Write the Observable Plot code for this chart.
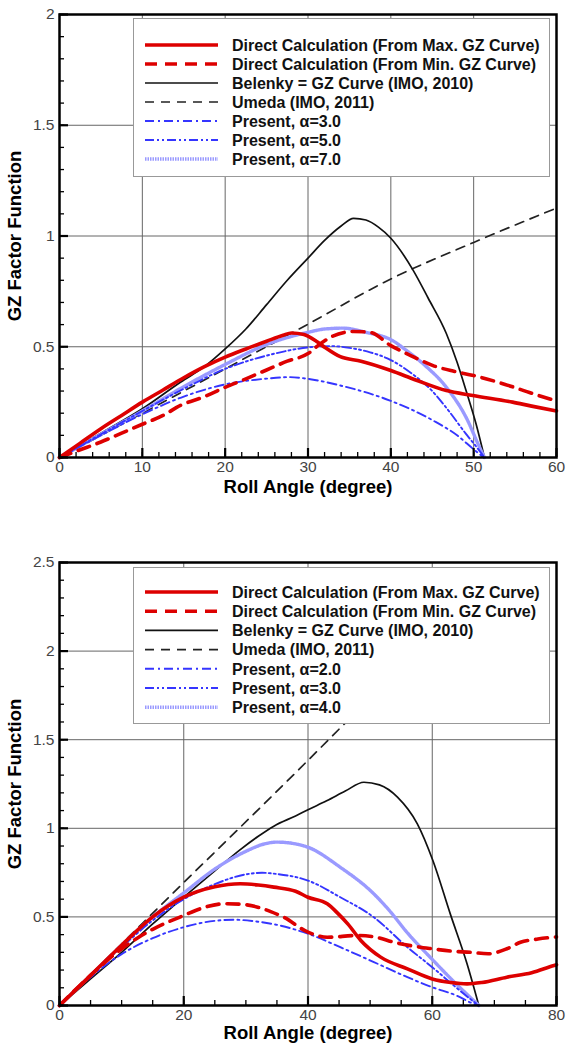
<!DOCTYPE html>
<html><head><meta charset="utf-8">
<script src="https://cdn.jsdelivr.net/npm/d3@7"></script>
<script src="https://cdn.jsdelivr.net/npm/@observablehq/plot@0.6"></script>
<style>
body{margin:0;background:#fff;font-family:"Liberation Sans",Arial,sans-serif;}
.panel{position:relative;width:566px;overflow:hidden;}
.panel svg{display:block;}
.legend{position:absolute;}
</style></head><body>
<div id="top" class="panel" style="height:520px"></div>
<div id="bottom" class="panel" style="height:525px"></div>
<script>
// ---------- axis ticks ----------
const topXMajor = [0,10,20,30,40,50,60];
const topXMinor = d3.range(0, 61, 2);
const topYMajor = [0,0.5,1,1.5,2];
const topYMinor = d3.range(0, 2.01, 0.1);
const botXMajor = [0,20,40,60,80];
const botXMinor = d3.range(0, 81, 5);
const botYMajor = [0,0.5,1,1.5,2,2.5];
const botYMinor = d3.range(0, 2.51, 0.1);

const xTitle = "Roll Angle (degree)";
const yTitle = "GZ Factor Function";

// ---------- legend labels ----------
const topLegend = ["Direct Calculation (From Max. GZ Curve)","Direct Calculation (From Min. GZ Curve)","Belenky = GZ Curve (IMO, 2010)","Umeda (IMO, 2011)","Present, α=3.0","Present, α=5.0","Present, α=7.0"];
const botLegend = ["Direct Calculation (From Max. GZ Curve)","Direct Calculation (From Min. GZ Curve)","Belenky = GZ Curve (IMO, 2010)","Umeda (IMO, 2011)","Present, α=2.0","Present, α=3.0","Present, α=4.0"];

// ---------- top panel data [roll angle, GZ factor] ----------
const top_max = [[0,0],[2.5,0.065],[5,0.13],[7.5,0.19],[10,0.25],[12.5,0.305],[15,0.36],[17.5,0.41],[20,0.453],[22.5,0.49],[25,0.525],[27,0.552],[28,0.562],[29.5,0.555],[31,0.525],[32,0.498],[33.9,0.455],[36.4,0.435],[40,0.393],[43,0.35],[46.7,0.302],[49.9,0.28],[54.7,0.25],[57,0.232],[60,0.21]];
const top_min = [[0,0],[2.5,0.035],[5,0.07],[7.5,0.11],[10,0.15],[12.5,0.19],[14.6,0.235],[17.5,0.275],[20,0.317],[22.5,0.355],[25,0.395],[27.5,0.435],[30,0.469],[31.2,0.505],[33,0.548],[35.5,0.569],[37.5,0.565],[40,0.505],[42.4,0.46],[45.1,0.415],[47.5,0.39],[50,0.37],[53.8,0.33],[57,0.29],[60,0.255]];
const top_belenky = [[0,0],[5,0.11],[10,0.22],[14.6,0.34],[17.5,0.41],[20,0.49],[22.5,0.58],[25,0.69],[27.5,0.8],[30,0.9],[32,0.98],[34,1.045],[35.5,1.08],[37,1.072],[38.5,1.04],[40,0.99],[42.7,0.845],[44.5,0.72],[46.7,0.56],[48,0.43],[49.1,0.3],[50.3,0.15],[51.3,0]];
const top_umeda = [[0,0],[10,0.2],[20,0.4],[30,0.602],[40,0.806],[50,0.971],[60,1.126]];
const top_a1 = [[0,0],[5,0.1],[10,0.195],[15,0.275],[20,0.33],[25,0.356],[27.8,0.363],[30,0.355],[33.9,0.325],[39.9,0.257],[45.1,0.167],[48,0.1],[49.9,0.04],[51.2,0]];
const top_a2 = [[0,0],[5,0.105],[10,0.21],[15,0.31],[20,0.4],[25,0.46],[30,0.497],[32.8,0.503],[35,0.495],[37.5,0.475],[40,0.44],[42.5,0.38],[45,0.3],[47,0.21],[49,0.11],[50.5,0.04],[51.3,0]];
const top_a3 = [[0,0],[5,0.105],[10,0.21],[15,0.32],[20,0.42],[25,0.51],[30,0.565],[32,0.58],[34.2,0.584],[37,0.565],[40.2,0.528],[42,0.48],[43.9,0.423],[46.7,0.317],[49.1,0.18],[50.7,0.047],[51.3,0]];

// ---------- bottom panel data ----------
const bot_max = [[0,0],[5,0.17],[10,0.34],[15,0.5],[20,0.611],[25,0.67],[29.1,0.687],[32,0.68],[34.5,0.668],[38,0.645],[40,0.611],[43.1,0.574],[44.8,0.52],[46.4,0.461],[48.5,0.367],[51.7,0.273],[56,0.207],[60,0.15],[63,0.13],[65.6,0.122],[68,0.13],[72,0.16],[76,0.185],[79.6,0.226],[80,0.23]];
const bot_min = [[0,0],[5,0.17],[10,0.32],[12.5,0.38],[15,0.43],[20,0.508],[23,0.55],[26.5,0.574],[29,0.572],[31.9,0.555],[34,0.53],[36.1,0.498],[40,0.414],[43.1,0.385],[47.9,0.395],[51,0.385],[53.8,0.357],[57,0.335],[60,0.32],[63,0.307],[66.2,0.3],[69,0.292],[72,0.32],[74.2,0.357],[77,0.375],[80,0.387]];
const bot_belenky = [[0,0],[5,0.15],[10,0.3],[15,0.46],[20,0.612],[25,0.76],[29.1,0.88],[32,0.955],[34.5,1.012],[38,1.07],[40,1.105],[43,1.155],[46,1.21],[49,1.26],[51.5,1.245],[54.4,1.176],[57.6,1.025],[60.1,0.818],[62.9,0.517],[65.6,0.236],[67.5,0]];
const bot_umeda = [[0,0],[10,0.347],[20,0.694],[29.1,1.006],[39.9,1.38],[47,1.63]];
const bot_a1 = [[0,0],[5,0.16],[10,0.29],[15,0.38],[20,0.442],[25,0.478],[28.1,0.484],[31,0.477],[35,0.455],[40,0.405],[45.2,0.329],[50.6,0.245],[56,0.16],[60,0.103],[63.9,0.056],[66.5,0.012],[67.5,0]];
const bot_a2 = [[0,0],[5,0.17],[10,0.33],[15,0.48],[20,0.6],[25,0.685],[30,0.74],[32.6,0.749],[35,0.742],[40,0.705],[45.2,0.611],[50.6,0.498],[56,0.329],[60,0.216],[63.9,0.1],[66,0.04],[67.5,0]];
const bot_a3 = [[0,0],[5,0.17],[10,0.34],[15,0.5],[20,0.635],[25,0.77],[30,0.87],[33,0.912],[35,0.922],[37.5,0.915],[40,0.893],[45.2,0.78],[50.6,0.63],[53,0.54],[56,0.41],[60,0.26],[63.9,0.12],[66.6,0.03],[67.5,0]];

// ---------- styles ----------
const RED = "#dd0000", BLUE = "#3535ff", LBLUE = "#9a9aff";
const styles = [
  {stroke: RED, strokeWidth: 3.6},
  {stroke: RED, strokeWidth: 3.6, strokeDasharray: "12,8"},
  {stroke: "#111", strokeWidth: 1.7},
  {stroke: "#222", strokeWidth: 1.7, strokeDasharray: "9,7"},
  {stroke: BLUE, strokeWidth: 1.9, strokeDasharray: "9,4,2,4"},
  {stroke: BLUE, strokeWidth: 1.9, strokeDasharray: "9,3,2,3,2,3"},
  {stroke: LBLUE, strokeWidth: 3.4, strokeDasharray: "1.5,1"}
];
const drawOrder = [3, 2, 6, 5, 4, 1, 0];

function makePanel(el, cfg) {
  const series = cfg.series;
  const innerH = cfg.height - cfg.mt - cfg.mb;
  const innerW = 566 - 59 - 10;
  const lineMarks = drawOrder.map(i => Plot.line(series[i], {x: d => d[0], y: d => d[1], curve: "monotone-x", strokeLinejoin: "round", ...styles[i]}));
  const chart = Plot.plot({
    width: 566, height: cfg.height,
    marginLeft: 59, marginRight: 10, marginTop: cfg.mt, marginBottom: cfg.mb,
    style: {fontFamily: '"Liberation Sans", Arial, sans-serif', fontSize: "15.5px", background: "#fff"},
    x: {domain: cfg.xDomain},
    y: {domain: cfg.yDomain},
    marks: [
      Plot.gridX(cfg.xMajor, {stroke: "#666", strokeOpacity: 1, strokeWidth: 1}),
      Plot.gridY(cfg.yMajor, {stroke: "#666", strokeOpacity: 1, strokeWidth: 1}),
      ...lineMarks,
      // inward ticks
      Plot.ruleX(cfg.xMinor, {x: d => d, insetTop: innerH - 5, stroke: "#000", strokeWidth: 1.3}),
      Plot.ruleX(cfg.xMajor, {x: d => d, insetTop: innerH - 9, stroke: "#000", strokeWidth: 2.2}),
      Plot.ruleY(cfg.yMinor, {y: d => d, insetRight: innerW - 5, stroke: "#000", strokeWidth: 1.3}),
      Plot.ruleY(cfg.yMajor, {y: d => d, insetRight: innerW - 9, stroke: "#000", strokeWidth: 2.2}),
      Plot.frame({stroke: "#000", strokeWidth: 2.5}),
      Plot.axisX(cfg.xMajor, {tickSize: 0, tickPadding: 3, fontSize: 15.5, color: "#444", label: null, tickFormat: d => String(d)}),
      Plot.axisY(cfg.yMajor, {tickSize: 0, tickPadding: 5, fontSize: 15.5, color: "#444", label: null, tickFormat: d => String(d)}),
      Plot.text([xTitle], {text: d => d, frameAnchor: "bottom", lineAnchor: "middle", textAnchor: "middle", dy: cfg.xTitleDy, fontSize: 18.5, fontWeight: "bold", fill: "#000"}),
      Plot.text([yTitle], {text: d => d, frameAnchor: "left", lineAnchor: "middle", textAnchor: "middle", dx: -44, rotate: -90, fontSize: 18.5, fontWeight: "bold", fill: "#000"})
    ]
  });
  el.appendChild(chart);
  // legend
  const lg = cfg.legend;
  const W = 417, H = lg.h;
  let s = `<svg class="legend" width="${W}" height="${H}" style="left:${lg.left}px;top:${lg.top}px">`;
  s += `<rect x="0.5" y="0.5" width="${W-1}" height="${H-1}" fill="#fff" stroke="#999" stroke-width="1"/>`;
  cfg.labels.forEach((lab, i) => {
    const y = lg.first + i * lg.step;
    const st = styles[i];
    s += `<line x1="12" x2="85" y1="${y}" y2="${y}" stroke="${st.stroke}" stroke-width="${st.strokeWidth}" ${st.strokeDasharray ? `stroke-dasharray="${st.strokeDasharray}"` : ""}/>`;
    s += `<text x="99" y="${y}" dy="0.36em" font-family="Liberation Sans, Arial, sans-serif" font-size="16" font-weight="bold" fill="#111">${lab}</text>`;
  });
  s += `</svg>`;
  el.insertAdjacentHTML("beforeend", s);
}

makePanel(document.getElementById("top"), {
  height: 520, mt: 14, mb: 63, xTitleDy: 30,
  xDomain: [0, 60], yDomain: [0, 2],
  xMajor: topXMajor, xMinor: topXMinor, yMajor: topYMajor, yMinor: topYMinor,
  series: [top_max, top_min, top_belenky, top_umeda, top_a1, top_a2, top_a3],
  labels: topLegend,
  legend: {left: 133, top: 18, h: 159, first: 27, step: 19}
});
makePanel(document.getElementById("bottom"), {
  height: 525, mt: 42, mb: 40, xTitleDy: 28,
  xDomain: [0, 80], yDomain: [0, 2.5],
  xMajor: botXMajor, xMinor: botXMinor, yMajor: botYMajor, yMinor: botYMinor,
  series: [bot_max, bot_min, bot_belenky, bot_umeda, bot_a1, bot_a2, bot_a3],
  labels: botLegend,
  legend: {left: 133, top: 47, h: 157, first: 25, step: 19.2}
});
</script>
</body></html>
